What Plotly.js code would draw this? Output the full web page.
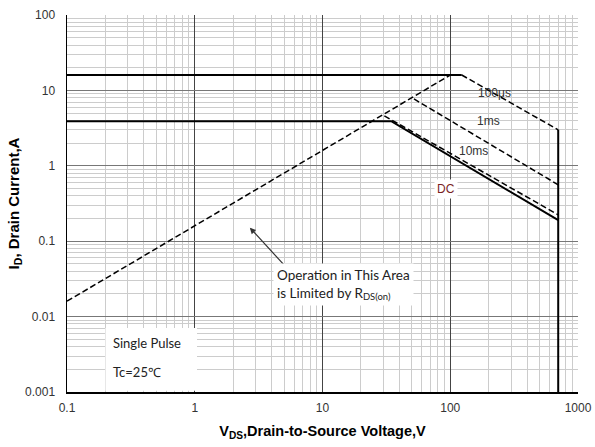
<!DOCTYPE html>
<html>
<head>
<meta charset="utf-8">
<script src="https://cdn.plot.ly/plotly-3.0.1.min.js"></script>
<style>html,body{margin:0;padding:0;background:#fff;}#chart{width:595px;height:447px;}</style>
</head>
<body>
<div id="chart"></div>
<script>
// ---- data (VDS in V, ID in A) ----
const vds16A = [0.1, 123];      const id16A = [16, 16];
const vdsRds = [0.1, 100];      const idRds = [0.016, 16];
const vds100us = [123, 700];    const id100us = [16, 3.0];
const vds1ms = [52, 700];       const id1ms = [7.7, 0.56];
const vds10ms = [30.5, 700];    const id10ms = [4.6, 0.224];
const vdsDC = [0.1, 34.5, 700]; const idDC = [3.9, 3.9, 0.19];
const vdsBV = [700, 700];       const idBV = [3.0, 0.001];

const xTickVals = [0.1, 1, 10, 100, 1000];
const xTickText = ['0.1', '1', '10', '100', '1000'];
const yTickVals = [0.001, 0.01, 0.1, 1, 10, 100];
const yTickText = ['0.001', '0.01', '0.1', '1', '10', '100'];

const curveLabels = ['100μs', '1ms', '10ms', 'DC'];
const labelV = [224, 198, 153, 92.7];
const labelI = [9.2, 3.9, 1.58, 0.488];

const solid = {color: '#000', width: 2};
const dashed = {color: '#000', width: 1.5, dash: '6px,3px'};

const traces = [
  {x: vds16A, y: id16A, mode: 'lines', line: solid, name: '16A'},
  {x: vdsRds, y: idRds, mode: 'lines', line: dashed, name: 'RDS(on)'},
  {x: vds100us, y: id100us, mode: 'lines', line: dashed, name: '100μs'},
  {x: vds1ms, y: id1ms, mode: 'lines', line: dashed, name: '1ms'},
  {x: vds10ms, y: id10ms, mode: 'lines', line: dashed, name: '10ms'},
  {x: vdsDC, y: idDC, mode: 'lines', line: solid, name: 'DC'},
  {x: vdsBV, y: idBV, mode: 'lines', line: solid, name: 'BVDSS'}
];

const tickFont = {family: 'Liberation Sans, Arial, sans-serif', size: 12, color: '#333'};
const noteFont = {family: 'Lato, Noto Sans, sans-serif', size: 13.5, color: '#222'};
const boxFont = {family: 'Lato, Noto Sans, sans-serif', size: 13, color: '#222'};

const annotations = curveLabels.map((t, i) => ({
  x: Math.log10(labelV[i]), y: Math.log10(labelI[i]), xref: 'x', yref: 'y',
  text: t, showarrow: false,
  font: {family: 'Liberation Sans, Arial, sans-serif', size: 12, color: t === 'DC' ? '#7a1f1f' : '#333'},
  bgcolor: t === 'DC' ? '#fff' : 'rgba(0,0,0,0)', borderpad: 2
}));

annotations.push({
  x: Math.log10(2.7), y: Math.log10(0.151), xref: 'x', yref: 'y',
  axref: 'x', ayref: 'y', ax: Math.log10(5.06), ay: Math.log10(0.0474),
  text: '', showarrow: true,
  arrowhead: 2, arrowsize: 1, arrowwidth: 1.2, arrowcolor: '#333'
});
annotations.push({
  x: 0.6125, y: -1.289, xref: 'x', yref: 'y', xanchor: 'left', yanchor: 'top',
  text: 'Operation in This Area<br>is Limited by R<sub>DS(on)</sub>', align: 'left',
  showarrow: false, font: noteFont, bgcolor: '#fff', borderpad: 3
});
annotations.push({
  x: -0.658, y: -2.346, xref: 'x', yref: 'y', xanchor: 'left', yanchor: 'middle',
  text: 'Single Pulse', showarrow: false, font: boxFont
});
annotations.push({
  x: -0.658, y: -2.731, xref: 'x', yref: 'y', xanchor: 'left', yanchor: 'middle',
  text: 'Tc=25℃', showarrow: false, font: boxFont
});

const layout = {
  width: 595, height: 447,
  margin: {l: 67, r: 17, t: 15, b: 55},
  paper_bgcolor: '#fff', plot_bgcolor: '#fff',
  showlegend: false,
  xaxis: {
    type: 'log', range: [-1, 3],
    tickmode: 'array', tickvals: xTickVals, ticktext: xTickText,
    ticks: 'outside', ticklen: 4, tickcolor: 'rgba(0,0,0,0)',
    tickfont: tickFont,
    showgrid: true, gridcolor: '#444', gridwidth: 1,
    minor: {dtick: 'D1', showgrid: true, gridcolor: '#cccccc', gridwidth: 1},
    showline: true, linecolor: '#000', linewidth: 1.5, zeroline: false,
    title: {text: '<b>V<sub>DS</sub>,Drain-to-Source Voltage,V</b>', font: {family: 'Liberation Sans, Arial, sans-serif', size: 14.5, color: '#000'}, standoff: 12}
  },
  yaxis: {
    type: 'log', range: [-3, 2],
    tickmode: 'array', tickvals: yTickVals, ticktext: yTickText,
    ticks: 'outside', ticklen: 8, tickcolor: 'rgba(0,0,0,0)',
    tickfont: tickFont,
    showgrid: true, gridcolor: '#777', gridwidth: 1,
    minor: {dtick: 'D1', showgrid: true, gridcolor: '#cccccc', gridwidth: 1},
    showline: true, linecolor: '#000', linewidth: 1.5, zeroline: false,
    title: {text: '<b>I<sub>D</sub>, Drain Current,A</b>', font: {family: 'Liberation Sans, Arial, sans-serif', size: 15, color: '#000'}, standoff: 2}
  },
  shapes: [{
    type: 'rect', xref: 'paper', yref: 'paper',
    x0: 0.0753, x1: 0.2544, y0: 0.003, y1: 0.170,
    fillcolor: '#fff', line: {width: 0}, layer: 'above'
  }],
  annotations: annotations
};

Plotly.newPlot('chart', traces, layout, {staticPlot: true, displayModeBar: false});
</script>
</body>
</html>
